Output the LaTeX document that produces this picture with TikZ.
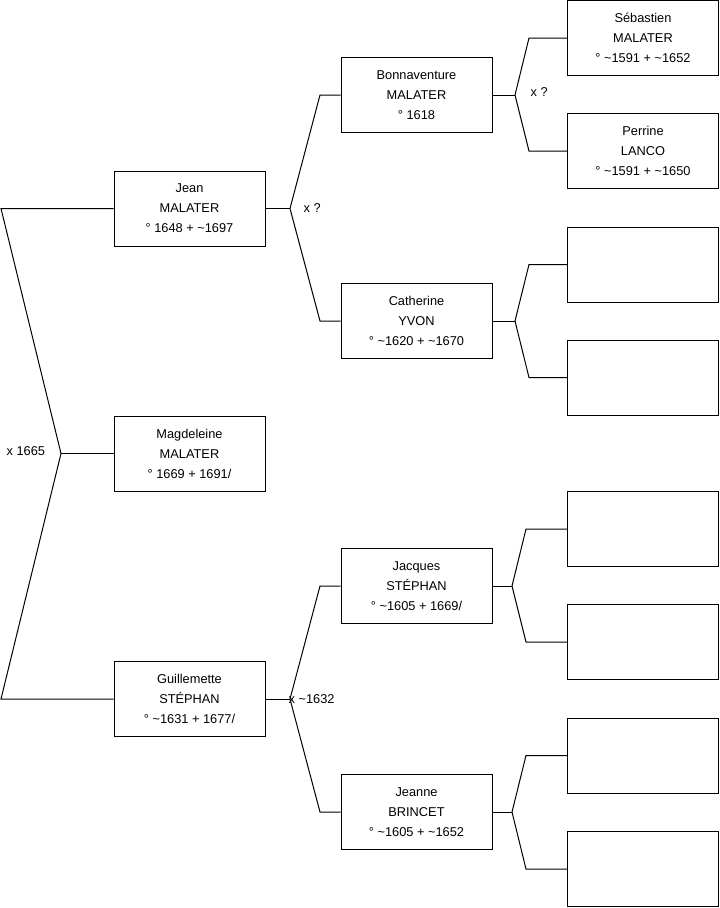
\documentclass[tikz,border=0pt]{standalone}
\usepackage{fontspec}
\setmainfont{Liberation Sans}
\usetikzlibrary{calc}
\tikzset{
  pbox/.style={draw=black,line width=0.75pt,minimum width=113.25pt,
    minimum height=56.25pt,align=center,inner sep=0pt,
    font=\fontsize{9.6}{15}\selectfont},
  lnk/.style={line width=0.75pt,black},
  mlbl/.style={font=\fontsize{9.6}{12}\selectfont,inner sep=1pt},
}

\begin{document}
\begin{tikzpicture}[x=0.75pt,y=-0.75pt]
  \useasboundingbox (0,0) rectangle (719,908);
  % children
  \node[pbox] (jean) at (189.5,208.5) {Jean\\MALATER\\° 1648 + \textasciitilde1697};
  \node[pbox] (magd) at (189.5,453.5) {Magdeleine\\MALATER\\° 1669 + 1691/};
  \node[pbox] (guil) at (189.5,699) {Guillemette\\STÉPHAN\\° \textasciitilde1631 + 1677/};
  % parents
  \node[pbox] (bonn) at (416.5,95) {Bonnaventure\\MALATER\\° 1618};
  \node[pbox] (cath) at (416.5,321) {Catherine\\YVON\\° \textasciitilde1620 + \textasciitilde1670};
  \node[pbox] (jacq) at (416.5,586) {Jacques\\STÉPHAN\\° \textasciitilde1605 + 1669/};
  \node[pbox] (jnn) at (416.5,812) {Jeanne\\BRINCET\\° \textasciitilde1605 + \textasciitilde1652};
  % grandparents
  \node[pbox] (seb) at (643,38) {Sébastien\\MALATER\\° \textasciitilde1591 + \textasciitilde1652};
  \node[pbox] (per) at (643,151) {Perrine\\LANCO\\° \textasciitilde1591 + \textasciitilde1650};
  \node[pbox] (cathpa) at (643,264.5) {};
  \node[pbox] (cathma) at (643,377.5) {};
  \node[pbox] (jacqpa) at (643,529) {};
  \node[pbox] (jacqma) at (643,642) {};
  \node[pbox] (jnnpa) at (643,755.5) {};
  \node[pbox] (jnnma) at (643,869) {};
  % siblings bracket
  \coordinate (r) at (61,453.5);
  \draw[lnk] (jean.west) -- (jean.west -| 1,0) -- (r) -- (guil.west -| 1,0) -- (guil.west);
  \draw[lnk] (r) -- (magd.west);
  % couples
  \foreach \c/\f/\m/\a/\b in {jean/bonn/cath/290/320, guil/jacq/jnn/290/320,
      bonn/seb/per/515/529, cath/cathpa/cathma/515/529,
      jacq/jacqpa/jacqma/512/526, jnn/jnnpa/jnnma/512/526} {
    \coordinate (v) at (\c.east -| \a,0);
    \draw[lnk] (\f.west) -- (\f.west -| \b,0) -- (v) -- (\m.west -| \b,0) -- (\m.west);
    \draw[lnk] (\c.east) -- (v);
  }
  % marriages
  \node[mlbl,anchor=west] (m0) at (5,451) {x 1665};
  \node[mlbl,anchor=west] (m1) at (302,208) {x ?};
  \node[mlbl,anchor=west] (m2) at (529,92) {x ?};
  \node[mlbl,anchor=west] (m3) at (287,699) {x \textasciitilde1632};
\end{tikzpicture}
\end{document}
